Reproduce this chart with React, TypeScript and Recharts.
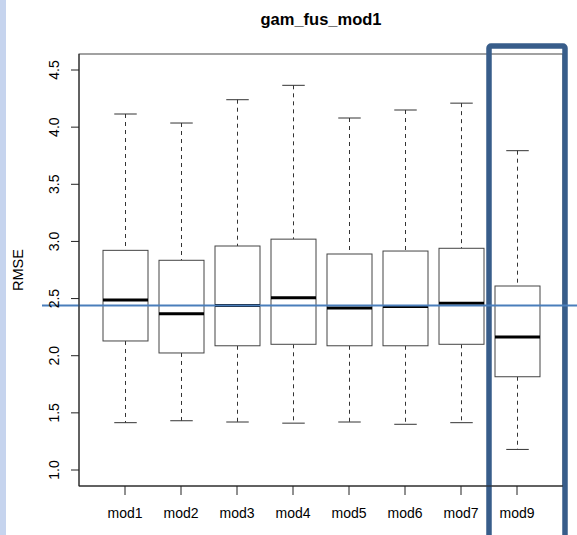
import React from "react";
import * as R from "recharts";
import { ComposedChart, Bar, XAxis, YAxis, ReferenceLine, ReferenceArea, Label } from "recharts";

const models = ["mod1", "mod2", "mod3", "mod4", "mod5", "mod6", "mod7", "mod9"];
const lowerWhisker = [1.414, 1.431, 1.42, 1.41, 1.42, 1.4, 1.414, 1.18];
const lowerQuartile = [2.129, 2.024, 2.087, 2.1, 2.087, 2.087, 2.1, 1.816];
const medians = [2.487, 2.368, 2.44, 2.507, 2.417, 2.43, 2.458, 2.164];
const upperQuartile = [2.922, 2.835, 2.96, 3.02, 2.89, 2.916, 2.94, 2.61];
const upperWhisker = [4.115, 4.036, 4.24, 4.366, 4.08, 4.15, 4.21, 3.794];
const yTicks = [1, 1.5, 2, 2.5, 3, 3.5, 4, 4.5];
const referenceRmse = 2.44;
const highlighted = "mod9";

const data = models.map((name, i) => ({
  name,
  range: [lowerWhisker[i], upperWhisker[i]],
  min: lowerWhisker[i],
  q1: lowerQuartile[i],
  median: medians[i],
  q3: upperQuartile[i],
  max: upperWhisker[i],
}));

const usePlot: () => any = (R as any).usePlotArea ?? (() => null);

// box around the plotting region, like R's box()
function PlotFrame() {
  const area = usePlot();
  if (!area) return null;
  return (
    <rect x={area.x} y={area.y} width={area.width} height={area.height} fill="none" stroke="#444" />
  );
}

function BoxShape(props: any) {
  const { x, y, width, height, payload } = props;
  const top = Math.min(y, y + height);
  const h = Math.abs(height);
  const { min, q1, median, q3, max } = payload;
  const toY = (v: number) => top + (h * (max - v)) / (max - min);
  const cx = x + width / 2;
  const cap = width / 4;
  return (
    <g>
      <line x1={cx} x2={cx} y1={toY(max)} y2={toY(q3)} stroke="#333" strokeDasharray="4 4" />
      <line x1={cx} x2={cx} y1={toY(q1)} y2={toY(min)} stroke="#333" strokeDasharray="4 4" />
      <line x1={cx - cap} x2={cx + cap} y1={toY(max)} y2={toY(max)} stroke="#333" />
      <line x1={cx - cap} x2={cx + cap} y1={toY(min)} y2={toY(min)} stroke="#333" />
      <rect x={x} y={toY(q3)} width={width} height={toY(q1) - toY(q3)} fill="#fff" stroke="#444" />
      <line x1={x} x2={x + width} y1={toY(median)} y2={toY(median)} stroke="#000" strokeWidth={3} />
    </g>
  );
}

function YTick({ x, y, payload }: any) {
  return (
    <text transform={`translate(${x},${y}) rotate(-90)`} textAnchor="middle" fontSize={14} fill="#000">
      {Number(payload.value).toFixed(1)}
    </text>
  );
}

export default function App() {
  return (
    <div
      style={{
        position: "absolute",
        left: 0,
        top: 0,
        width: 577,
        height: 535,
        background: "#fff",
        overflow: "hidden",
        fontFamily: "'Liberation Sans', Arial, sans-serif",
      }}
    >
      <div style={{ position: "absolute", left: 0, top: 0, width: 6, height: 535, background: "#c6d4ee" }} />
      <div
        style={{
          position: "absolute",
          left: 79,
          top: 9,
          width: 484,
          textAlign: "center",
          fontWeight: "bold",
          fontSize: 16.5,
          lineHeight: "20px",
          color: "#000",
        }}
      >
        gam_fus_mod1
      </div>
      <ComposedChart
        width={577}
        height={535}
        data={data}
        margin={{ top: 54, right: 14, bottom: 0, left: 0 }}
        style={{ position: "absolute", left: 0, top: 0 }}
      >
        <XAxis
          dataKey="name"
          height={49}
          padding={{ left: 18, right: 18 }}
          tickSize={9}
          tickMargin={13}
          stroke="#222"
          tick={{ fill: "#000", fontSize: 14 }}
          interval={0}
        />
        <YAxis
          type="number"
          width={79}
          domain={[0.86, 4.64]}
          allowDataOverflow
          ticks={yTicks}
          tickSize={8}
          tickMargin={12}
          stroke="#222"
          tick={<YTick />}
        >
          <Label
            content={(p: any) => {
              const vb = p.viewBox;
              return (
                <text
                  transform={`translate(${vb.x + 23},${vb.y + vb.height / 2}) rotate(-90)`}
                  textAnchor="middle"
                  fontSize={14.5}
                  fill="#000"
                >
                  RMSE
                </text>
              );
            }}
          />
        </YAxis>
        <PlotFrame />
        <Bar dataKey="range" barSize={45} shape={<BoxShape />} isAnimationActive={false} />
        <ReferenceLine
          y={referenceRmse}
          ifOverflow="visible"
          shape={(p: any) => (
            <line x1={p.x1 - 37} y1={p.y1} x2={p.x2 + 14} y2={p.y2} stroke="#4a7ebb" strokeWidth={2} />
          )}
        />
        <ReferenceArea
          x1={highlighted}
          x2={highlighted}
          y1={0.3}
          y2={4.71}
          ifOverflow="visible"
          shape={(p: any) => (
            <rect
              x={p.x}
              y={p.y}
              width={p.width + 20}
              height={p.height}
              rx={2}
              fill="none"
              stroke="#385d8a"
              strokeWidth={5.5}
            />
          )}
        />
      </ComposedChart>
    </div>
  );
}
